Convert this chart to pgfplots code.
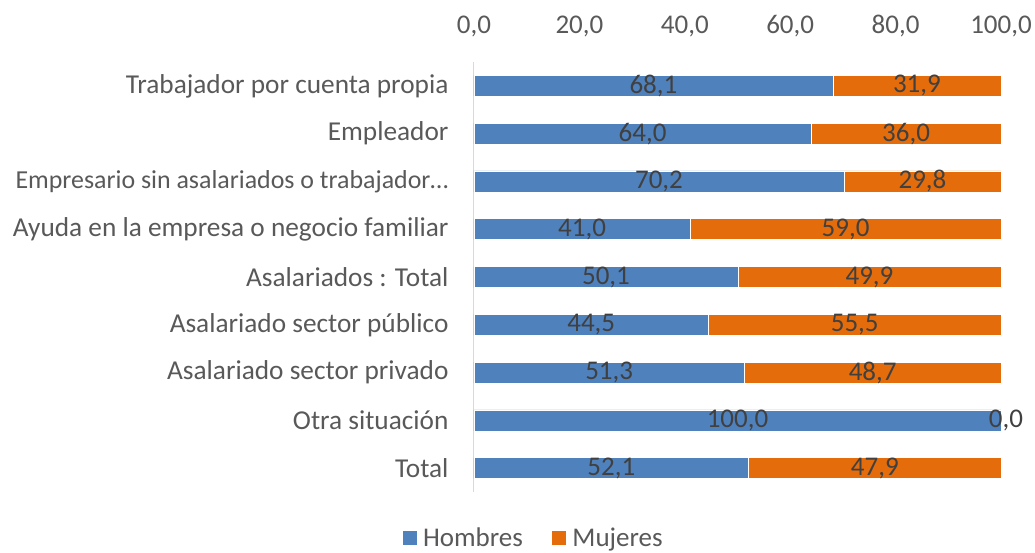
\documentclass[border=0pt]{standalone}
\usepackage{pgfplots}
\pgfplotsset{compat=1.18}
\usepackage{fontspec}
\setmainfont{Carlito}
\definecolor{hblue}{HTML}{4F81BD}
\definecolor{morange}{HTML}{E46C0A}
\definecolor{txt}{HTML}{595959}
\definecolor{lbl}{HTML}{404040}
\begin{document}
\begin{tikzpicture}
\useasboundingbox (-474pt,-61pt) rectangle (561pt,492pt);
\begin{axis}[
  name=ax, at={(0,0)}, anchor=south west,
  scale only axis, width=527pt, height=430pt,
  xbar stacked, bar width=21pt,
  xmin=0, xmax=100, ymin=-0.5, ymax=8.5, y dir=reverse,
  axis x line*=top, axis y line*=left,
  x axis line style={draw=none},
  y axis line style={draw=black!15, line width=1pt},
  xtick={0,20,...,100}, ytick={0,...,8},
  yticklabels={Trabajador por cuenta propia, Empleador, {\fontsize{25.9}{30}\selectfont Empresario sin asalariados o trabajador…}, Ayuda en la empresa o negocio familiar, Asalariados : Total, Asalariado sector público, Asalariado sector privado, Otra situación\ , Total},
  major tick length=0pt,
  tick label style={font=\fontsize{27}{31}\selectfont, text=txt},
  yticklabel style={font=\fontsize{27.3}{31}\selectfont},
  xticklabel style={/pgf/number format/.cd, fixed, fixed zerofill, precision=1, use comma, assume math mode=true},
  xticklabel shift=22pt,
  yticklabel shift=22pt,
  clip=false,
  nodes near coords={\pgfmathprintnumber[fixed,fixed zerofill,precision=1,use comma,assume math mode=true]{\rawx}},
  visualization depends on={rawx \as \rawx},
  every node near coord/.append style={anchor=center, font=\fontsize{27}{31}\selectfont, text=lbl},
  legend style={at={(0.116,-0.107)}, anchor=center, legend columns=2, draw=none, font=\fontsize{27}{31}\selectfont, text=txt, /tikz/every even column/.append style={column sep=22pt}, nodes={inner xsep=6pt}},
  legend image code/.code={\fill[#1] (0pt,-7pt) rectangle (15pt,8pt);},
]
\addplot[fill=hblue, draw=white, line width=0.5pt] coordinates {(68.1,0) (64.0,1) (70.2,2) (41.0,3) (50.1,4) (44.5,5) (51.3,6) (100.0,7) (52.1,8)};
\addlegendentry{Hombres}
\addplot[fill=morange, draw=white, line width=0.5pt] coordinates {(31.9,0) (36.0,1) (29.8,2) (59.0,3) (49.9,4) (55.5,5) (48.7,6) (0.0,7) (47.9,8)};
\addlegendentry{Mujeres}
\end{axis}
\node[font=\fontsize{27}{31}\selectfont, text=lbl] at ([xshift=5pt, yshift=71.7pt]ax.south east) {0,0};
\end{tikzpicture}
\end{document}
